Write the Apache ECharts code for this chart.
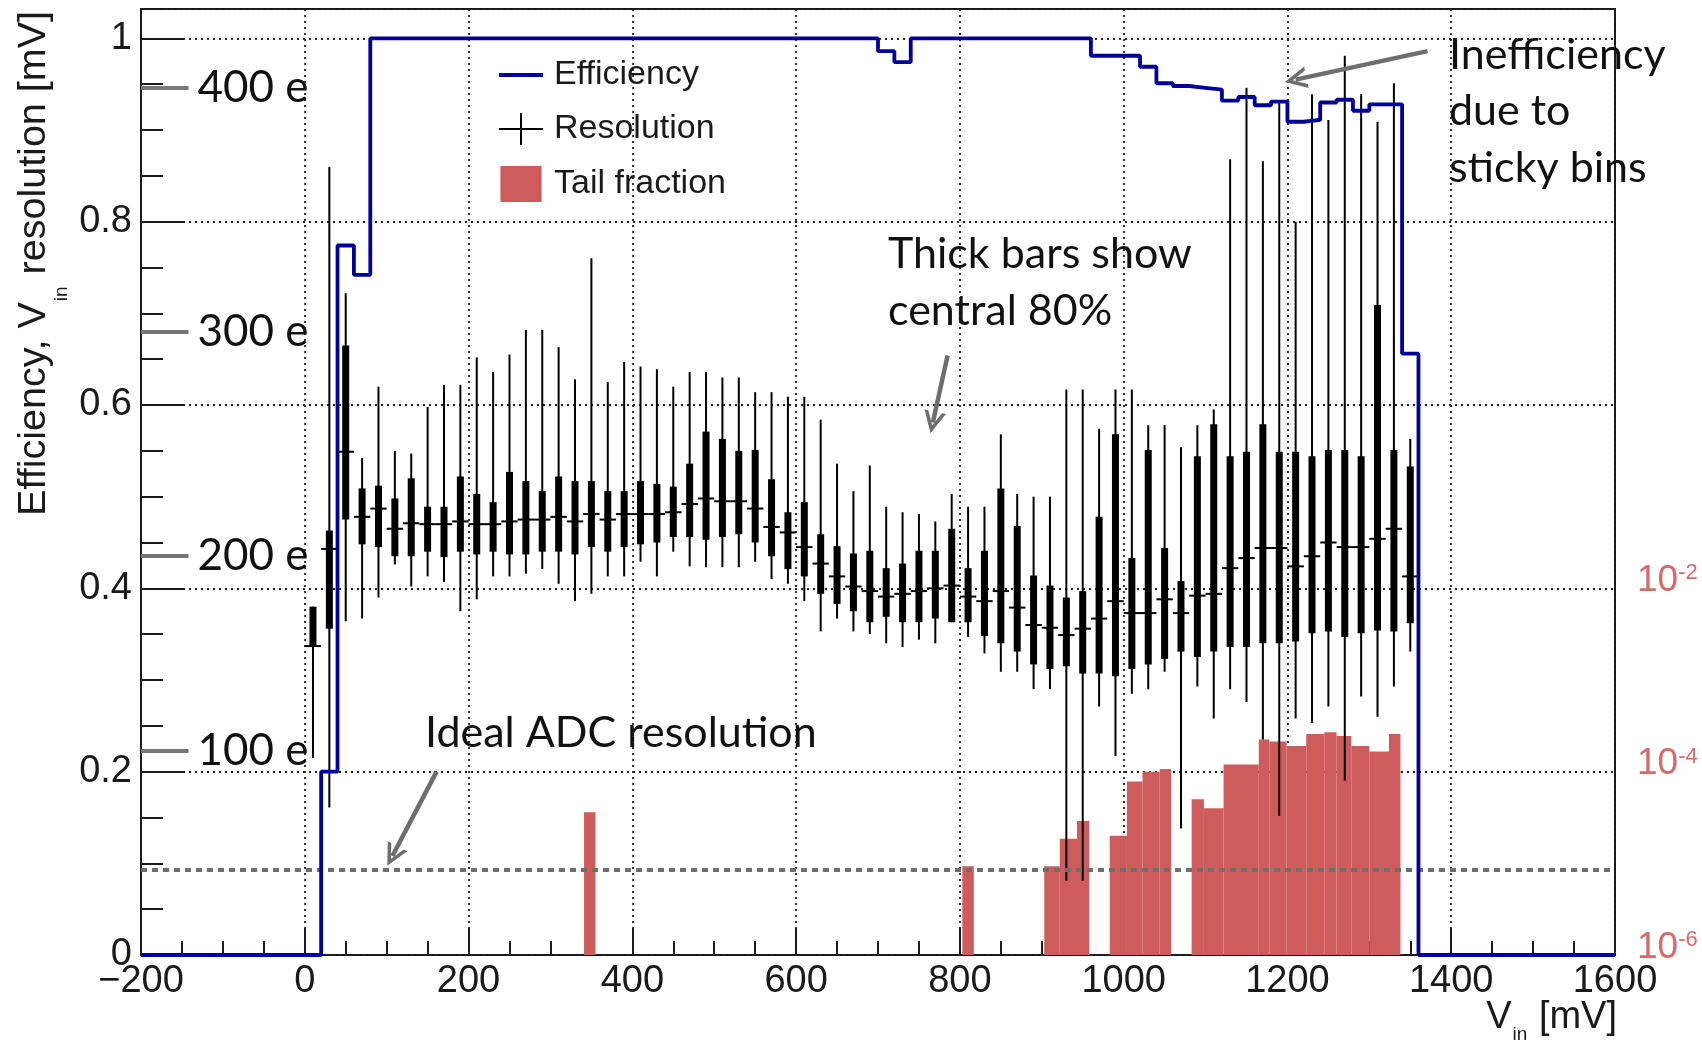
<!DOCTYPE html>
<html>
<head>
<meta charset="utf-8">
<script src="https://cdn.jsdelivr.net/npm/echarts@6/dist/echarts.min.js"></script>
<style>
html,body{margin:0;padding:0;background:#fff;}
#c{width:1702px;height:1042px;}
</style>
</head>
<body>
<div id="c"></div>
<script>
// ---------------- data ----------------
const binCenters = [10,30,50,70,90,110,130,150,170,190,210,230,250,270,290,310,330,350,370,390,
  410,430,450,470,490,510,530,550,570,590,610,630,650,670,690,710,730,750,770,790,
  810,830,850,870,890,910,930,950,970,990,1010,1030,1050,1070,1090,1110,1130,1150,1170,1190,
  1210,1230,1250,1270,1290,1310,1330,1350];
const resWhiskerLow = [0.215,0.161,0.364,0.367,0.39,0.426,0.402,0.413,0.407,0.375,
  0.388,0.413,0.413,0.416,0.421,0.405,0.386,0.394,0.413,0.413,
  0.429,0.413,0.44,0.424,0.423,0.423,0.423,0.429,0.41,0.405,
  0.386,0.353,0.367,0.353,0.35,0.34,0.336,0.344,0.34,0.363,
  0.347,0.329,0.309,0.309,0.29,0.29,0.081,0.081,0.271,0.217,
  0.285,0.29,0.309,0.138,0.293,0.258,0.29,0.276,0.235,0.152,
  0.258,0.253,0.271,0.19,0.282,0.26,0.293,0.331];
const resThickLow = [0.337,0.356,0.475,0.448,0.445,0.435,0.435,0.44,0.434,0.44,
  0.437,0.44,0.437,0.437,0.44,0.44,0.437,0.445,0.44,0.445,
  0.448,0.45,0.456,0.456,0.453,0.456,0.459,0.45,0.435,0.421,
  0.413,0.394,0.383,0.375,0.363,0.369,0.363,0.363,0.367,0.363,
  0.363,0.348,0.34,0.331,0.317,0.312,0.315,0.307,0.307,0.304,
  0.312,0.317,0.323,0.331,0.325,0.331,0.336,0.336,0.34,0.34,
  0.342,0.351,0.353,0.347,0.351,0.354,0.353,0.362];
const resMedian = [0.337,0.443,0.549,0.478,0.487,0.465,0.471,0.47,0.47,0.473,
  0.47,0.47,0.473,0.475,0.475,0.478,0.473,0.481,0.475,0.481,
  0.481,0.481,0.483,0.492,0.498,0.495,0.495,0.487,0.467,0.461,
  0.445,0.427,0.413,0.402,0.397,0.391,0.394,0.397,0.4,0.403,
  0.391,0.386,0.397,0.379,0.36,0.357,0.349,0.356,0.367,0.386,
  0.373,0.373,0.388,0.373,0.392,0.394,0.422,0.433,0.444,0.444,
  0.424,0.435,0.45,0.445,0.445,0.454,0.465,0.413];
const resThickHigh = [0.38,0.463,0.665,0.509,0.512,0.498,0.52,0.489,0.489,0.522,
  0.503,0.494,0.527,0.517,0.506,0.522,0.517,0.517,0.506,0.506,
  0.517,0.514,0.511,0.536,0.571,0.563,0.55,0.551,0.519,0.483,
  0.494,0.459,0.446,0.438,0.441,0.422,0.427,0.441,0.441,0.465,
  0.422,0.441,0.509,0.468,0.414,0.403,0.39,0.397,0.478,0.568,
  0.433,0.551,0.444,0.408,0.544,0.579,0.544,0.549,0.579,0.549,
  0.549,0.544,0.551,0.551,0.544,0.709,0.551,0.533];
const resWhiskerHigh = [0.38,0.86,0.722,0.542,0.62,0.55,0.547,0.598,0.622,0.622,
  0.652,0.636,0.655,0.682,0.682,0.663,0.628,0.76,0.625,0.647,
  0.642,0.639,0.62,0.636,0.636,0.63,0.63,0.614,0.614,0.609,
  0.609,0.584,0.536,0.506,0.534,0.489,0.483,0.481,0.473,0.503,
  0.489,0.489,0.568,0.503,0.5,0.5,0.617,0.617,0.574,0.617,
  0.617,0.578,0.578,0.554,0.578,0.595,0.868,0.946,0.866,0.9315,
  0.80,0.939,0.911,0.981,0.939,0.909,0.951,0.563];

// efficiency histogram: left bin edges and values (last entry closes the histogram)
const effEdges = [-200,20,40,60,80,700,720,740,960,1020,1040,1060,1080,1100,1120,1140,1160,1180,1200,1220,1240,1260,1280,1300,1340,1360,1600];
const effValues = [0,0.2,0.774,0.742,1.0,0.986,0.974,1.0,0.981,0.969,0.951,0.948,0.946,0.944,0.932,0.936,0.927,0.931,0.909,0.911,0.930,0.933,0.921,0.928,0.656,0,0];

// tail fraction histogram (log scale, right axis)
const tailStart = [341,803,903,922,943,983,1004,1023,1044,1083,1098,1122,1165,1178,1199,1223,1245,1260,1278,1300,1324];
const tailEnd   = [355,817,922,943,958,1004,1023,1044,1058,1098,1122,1165,1178,1199,1223,1245,1260,1278,1300,1324,1338];
const tailFraction = [3.6e-5,9.3e-6,9.3e-6,1.86e-5,2.9e-5,2.0e-5,7.8e-5,1.0e-4,1.07e-4,5.0e-5,4.0e-5,1.2e-4,2.24e-4,2.14e-4,1.9e-4,2.57e-4,2.69e-4,2.45e-4,1.9e-4,1.66e-4,2.57e-4];

// electron-equivalent scale marks on the left axis
const eTickValues = [0.223,0.436,0.68,0.946];
const eTickLabels = ['100 e','200 e','300 e','400 e'];

const idealAdcResolution = 0.0935;

// right (log) axis: exponents that carry a label
const rightTickExponents = [-6,-4,-2];

// annotation arrows (data coordinates: [mV, value])
const arrowTails = [[161,0.2],[785,0.654],[1371,0.986]];
const arrowHeads = [[107,0.108],[767,0.581],[1210,0.955]];

// ---------------- chart ----------------
const X_MIN = -200, X_MAX = 1600, Y_MAX = 1.032;
const LOG_MIN = 1e-6, LOG_MAX = Math.pow(10, -6 + 10 * Y_MAX);
const HALF_BIN = 10;
const E_TICK_END = -142;

const FONT = '"Liberation Sans", Arial, Helvetica, sans-serif';
const ANN_FONT = 'Lato, "Open Sans", sans-serif';
const INK = '#1a1a1a';
const RED_LBL = '#d66a6a';

const resData = binCenters.map((x, i) => [x, resWhiskerLow[i], resThickLow[i], resMedian[i], resThickHigh[i], resWhiskerHigh[i]]);
const tailData = tailStart.map((s, i) => [s, tailEnd[i], tailFraction[i]]);
const effData = effEdges.map((x, i) => [x, effValues[i]]);

const chevron = 'path://M0,22L11,0L22,22L18,22L11,8L4,22Z';
const grayArrow = '#6e6e6e';

const markLineData = [
  [{coord: [X_MIN, idealAdcResolution], lineStyle: {color: '#6e6e6e', width: 4, type: [6, 5]}}, {coord: [X_MAX, idealAdcResolution]}]
];
eTickValues.forEach((v, i) => {
  markLineData.push([
    {coord: [X_MIN, v], lineStyle: {color: '#777', width: 4, type: 'solid'},
     label: {show: true, position: 'end', formatter: eTickLabels[i], fontFamily: ANN_FONT, fontSize: 44, color: '#111', distance: 9}},
    {coord: [E_TICK_END, v]}
  ]);
});
arrowTails.forEach((t, i) => {
  markLineData.push([
    {coord: t, symbol: 'none', lineStyle: {color: grayArrow, width: 4.5, type: 'solid'}},
    {coord: arrowHeads[i], symbol: chevron, symbolSize: [22, 22]}
  ]);
});

// text measurement for sub-scripted axis titles
const mctx = document.createElement('canvas').getContext('2d');
function tw(t, font) { mctx.font = font; return mctx.measureText(t).width; }
const fMainY = '39.5px "Liberation Sans"';
const fMain = '38px "Liberation Sans"';
const fSub = '19px "Liberation Sans"';
const yT1 = 'Efficiency, V', yT2 = 'in', yT3 = ' resolution [mV]';
const yW1 = tw(yT1, fMainY), yW2 = tw(yT2, fSub) + 2, yW3 = tw(yT3, fMainY);
const yW = yW1 + yW2 + yW3;
const xT1 = 'V', xT2 = 'in', xT3 = ' [mV]';
const xW1 = tw(xT1, fMain), xW2 = tw(xT2, fSub) + 2, xW3 = tw(xT3, fMain);
const xW = xW1 + xW2 + xW3;

function txt(x, y, text, font, fill) {
  return {type: 'text', x: x, y: y, silent: true,
    style: {text: text, font: font, fill: fill || INK, verticalAlign: 'middle', align: 'left'}};
}
const annFont = '43px Lato';
const noZeroLine = {show: false, onZero: false};

const option = {
  animation: false,
  backgroundColor: '#fff',
  grid: {left: 141, right: 87, top: 9, bottom: 87, show: true, borderColor: INK, borderWidth: 2, backgroundColor: 'transparent'},
  legend: {
    left: 499, top: 58, padding: 0, orient: 'vertical', itemWidth: 44, itemHeight: 36, itemGap: 20,
    selectedMode: false,
    textStyle: {fontSize: 34, fontFamily: FONT, color: INK, padding: [0, 0, 0, 6]},
    data: [
      {name: 'Efficiency', icon: 'path://M0,0H44V4H0Z', itemStyle: {color: '#00009c', borderWidth: 0}},
      {name: 'Resolution', icon: 'path://M0,15H44V17H0Z M21,0H23V32H21Z', itemStyle: {color: '#000', borderWidth: 0}},
      {name: 'Tail fraction', icon: 'path://M0,0H40V35H0Z', itemStyle: {color: '#cf5c5c', borderWidth: 0}}
    ]
  },
  xAxis: {
    type: 'value', min: X_MIN, max: X_MAX, interval: 200,
    axisLine: noZeroLine,
    axisTick: {show: true, inside: true, length: 27, lineStyle: {color: INK, width: 2}},
    minorTick: {show: true, splitNumber: 4, length: 14, lineStyle: {color: INK, width: 2}},
    splitLine: {show: true, lineStyle: {color: '#222', width: 1.8, type: [2, 4]}},
    axisLabel: {fontSize: 38, fontFamily: FONT, color: INK, margin: 8,
      formatter: v => v < 0 ? '\u2212' + Math.abs(v) : String(v)}
  },
  yAxis: [
    {
      type: 'value', min: 0, max: Y_MAX, interval: 0.2, position: 'left',
      axisLine: noZeroLine,
      axisTick: {show: true, inside: true, length: 44, lineStyle: {color: INK, width: 2}},
      splitLine: {show: true, lineStyle: {color: '#222', width: 1.8, type: [2, 4]}},
      axisLabel: {fontSize: 38, fontFamily: FONT, color: INK, margin: 9, showMaxLabel: false,
        formatter: v => String(Math.round(v * 10) / 10)}
    },
    {
      type: 'log', min: LOG_MIN, max: LOG_MAX, interval: 2, position: 'right', logBase: 10,
      axisLine: noZeroLine, axisTick: {show: false}, splitLine: {show: false},
      axisLabel: {
        margin: 22, color: RED_LBL, showMaxLabel: false, padding: [0, 0, 16, 0],
        formatter: v => {
          const l = Math.log10(v), e = Math.round(l);
          if (Math.abs(l - e) > 1e-6 || rightTickExponents.indexOf(e) < 0) return '';
          return '{b|10}{s|' + e + '}';
        },
        rich: {
          b: {fontSize: 37, fontFamily: FONT, color: RED_LBL, lineHeight: 36, verticalAlign: 'top'},
          s: {fontSize: 22, fontFamily: FONT, color: RED_LBL, lineHeight: 8, verticalAlign: 'top'}
        }
      }
    },
    {
      type: 'value', min: 0, max: Y_MAX, interval: 0.05, position: 'left',
      axisLine: noZeroLine, axisLabel: {show: false}, splitLine: {show: false},
      axisTick: {show: true, inside: true, length: 22, lineStyle: {color: INK, width: 2}}
    }
  ],
  series: [
    {
      name: 'Tail fraction', type: 'custom', yAxisIndex: 1, z: 2,
      itemStyle: {color: '#cf5c5c'},
      encode: {x: [0, 1], y: 2},
      data: tailData,
      renderItem: (params, api) => {
        const p0 = api.coord([api.value(0), api.value(2)]);
        const p1 = api.coord([api.value(1), LOG_MIN]);
        return {type: 'rect', shape: {x: p0[0], y: p0[1], width: p1[0] - p0[0], height: p1[1] - p0[1]},
          style: {fill: '#cf5c5c'}};
      }
    },
    {
      name: 'Resolution', type: 'custom', yAxisIndex: 0, z: 3,
      itemStyle: {color: '#000'},
      encode: {x: 0, y: [1, 2, 3, 4, 5]},
      data: resData,
      renderItem: (params, api) => {
        const x = api.value(0);
        const wLo = api.coord([x, api.value(1)]);
        const tLo = api.coord([x, api.value(2)]);
        const mL = api.coord([x - HALF_BIN, api.value(3)]);
        const mR = api.coord([x + HALF_BIN, api.value(3)]);
        const tHi = api.coord([x, api.value(4)]);
        const wHi = api.coord([x, api.value(5)]);
        return {type: 'group', children: [
          {type: 'line', shape: {x1: wLo[0], y1: wLo[1], x2: wHi[0], y2: wHi[1]}, style: {stroke: '#000', lineWidth: 2}},
          {type: 'rect', shape: {x: tHi[0] - 3.5, y: tHi[1], width: 7, height: tLo[1] - tHi[1]}, style: {fill: '#000'}},
          {type: 'line', shape: {x1: mL[0], y1: mL[1], x2: mR[0], y2: mR[1]}, style: {stroke: '#000', lineWidth: 2}}
        ]};
      }
    },
    {
      name: 'Efficiency', type: 'line', yAxisIndex: 0, z: 5, step: 'end', clip: false,
      symbol: 'none', data: effData,
      itemStyle: {color: '#00009c'},
      lineStyle: {color: '#00009c', width: 3.8},
      markLine: {
        silent: true, symbol: ['none', 'none'], animation: false,
        label: {show: false},
        data: markLineData
      }
    }
  ],
  graphic: [
    {type: 'group', x: 34, y: 11, rotation: Math.PI / 2, silent: true, children: [
      txt(-yW, 0, yT1, fMainY),
      txt(-yW + yW1 + 1, 28, yT2, fSub),
      txt(-yW + yW1 + yW2, 0, yT3, fMainY)
    ]},
    {type: 'group', x: 1617 - xW, y: 1018, silent: true, children: [
      txt(0, 0, xT1, fMain),
      txt(xW1 + 1, 17, xT2, fSub),
      txt(xW1 + xW2, 0, xT3, fMain)
    ]},
    txt(888, 254, 'Thick bars show', annFont, '#111'),
    txt(888, 311, 'central 80%', annFont, '#111'),
    txt(1449, 55, 'Inefficiency', annFont, '#111'),
    txt(1449, 111, 'due to', annFont, '#111'),
    txt(1449, 168, 'sticky bins', annFont, '#111'),
    txt(425, 733, 'Ideal ADC resolution', annFont, '#111')
  ]
};

const chart = echarts.init(document.getElementById('c'));
chart.setOption(option);
</script>
</body>
</html>
